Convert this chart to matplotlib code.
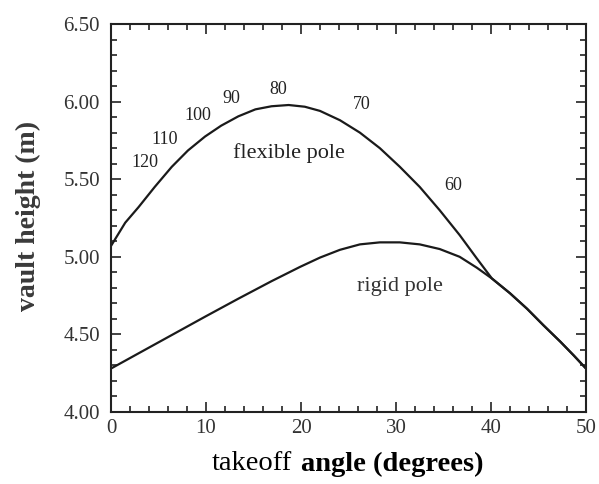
import matplotlib.pyplot as plt
from matplotlib.ticker import MultipleLocator

# takeoff angle (degrees) and vault height (m)
angle_flex = [0, 1.5, 2.9, 4.6, 6.4, 8.1, 9.9, 11.6, 13.4, 15.2, 16.9, 18.7, 20.4, 22.0,
              24.1, 26.2, 28.3, 30.4, 32.5, 34.6, 36.7, 38.5, 40.1, 42.0, 43.8, 45.5,
              47.3, 48.7, 50]
height_flex = [5.07, 5.22, 5.32, 5.45, 5.58, 5.685, 5.775, 5.845, 5.905, 5.95, 5.97, 5.978,
               5.967, 5.94, 5.88, 5.80, 5.70, 5.58, 5.45, 5.30, 5.14, 4.99, 4.86, 4.765,
               4.665, 4.56, 4.453, 4.365, 4.28]

angle_rigid = [0, 2.9, 6.4, 9.9, 13.4, 16.9, 19.9, 22.0, 24.1, 26.2, 28.3, 30.4, 32.5,
               34.6, 36.7, 38.5, 40.1, 42.0, 43.8, 45.5, 47.3, 48.7, 50]
height_rigid = [4.28, 4.378, 4.496, 4.614, 4.73, 4.843, 4.935, 4.995, 5.045, 5.08, 5.093,
                5.093, 5.08, 5.05, 5.00, 4.93, 4.86, 4.765, 4.665, 4.56, 4.453, 4.365, 4.28]

# numbers written along the flexible pole curve
marker_labels = ['120', '110', '100', '90', '80', '70', '60']
marker_x = [3.6, 5.6, 9.1, 12.7, 17.6, 26.4, 36.0]
marker_y = [5.61, 5.756, 5.91, 6.02, 6.075, 5.98, 5.46]

plt.rcParams['font.family'] = ['Liberation Serif', 'DejaVu Serif']

fig = plt.figure(figsize=(5.99, 4.84), dpi=100)
ax = fig.add_axes([111 / 599, 1 - 412 / 484, 475 / 599, 388 / 484])

ax.plot(angle_flex, height_flex, color='#1a1a1a', lw=1.6, solid_joinstyle='round')
ax.plot(angle_rigid, height_rigid, color='#1a1a1a', lw=1.6, solid_joinstyle='round')

for lab, x, y in zip(marker_labels, marker_x, marker_y):
    ax.text(x, y, lab, fontsize=13, ha='center', va='center', color='#222222')

ax.text(18.7, 5.67, 'flexible pole', fontsize=16, ha='center', va='center', color='#222222')
ax.text(30.4, 4.807, 'rigid pole', fontsize=16, ha='center', va='center', color='#333333')

ax.set_xlim(0, 50)
ax.set_ylim(4.0, 6.5)
ax.xaxis.set_major_locator(MultipleLocator(10))
ax.xaxis.set_minor_locator(MultipleLocator(2))
ax.yaxis.set_major_locator(MultipleLocator(0.5))
ax.yaxis.set_minor_locator(MultipleLocator(0.1))
ax.yaxis.set_major_formatter(plt.FormatStrFormatter('%.2f'))
ax.tick_params(which='both', direction='in', top=True, right=True, width=1.2, color='#222222')
ax.tick_params(which='major', length=7, labelsize=15, labelcolor='#333333')
ax.tick_params(axis='x', which='major', pad=5)
ax.tick_params(axis='y', which='major', pad=8)
ax.tick_params(which='minor', length=4)
for s in ax.spines.values():
    s.set_linewidth(1.5)
    s.set_color('#222222')

fig.text(28 / 599, 1 - 216 / 484, 'vault height (m)', rotation=90, fontsize=20,
         fontweight='bold', color='#3a3a3a', ha='center', va='center')
fig.text(292 / 599, 1 - 464 / 484, 'takeoff', fontsize=20.5, ha='right', va='center')
fig.text(301 / 599, 1 - 464 / 484, 'angle (degrees)', fontsize=20.5, fontweight='bold',
         ha='left', va='center')

fig.savefig('out.png', dpi=100)
